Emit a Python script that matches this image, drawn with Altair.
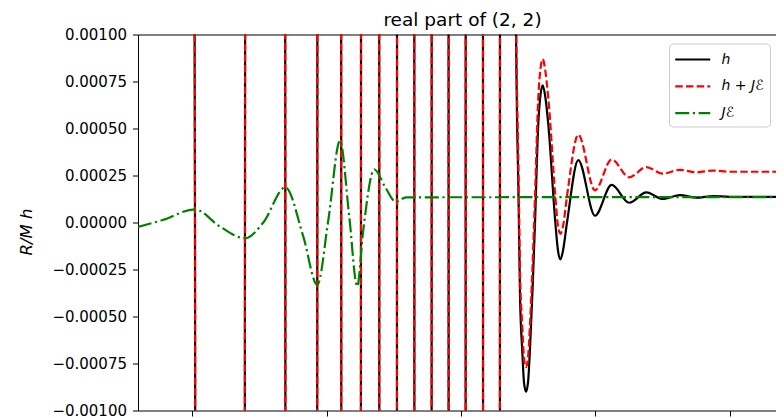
import altair as alt
import pandas as pd

# ---- data (x in units of t/M, y = R/M h) ----
labels = ["h", "h + Jℰ", "Jℰ"]
colors = ["#000000", "#ff0000", "#008000"]
dashes = [[1, 0], [7.5, 3.2], [14, 3.6, 2.2, 3.6]]

t_h = [-240.3, -197.9, -179.3, -160.7, -145.7, -130.7, -118.8, -106.9, -98.0, -89.1,
       -81.8, -74.4, -67.6, -60.8, -54.2, -47.6, -41.2, -34.7, -28.3, -21.8,
       -15.5, -9.2, -2.9, 3.5, 10.0, 16.4, 22.7, 29.0, 35.0,
       40.9, 42.9, 43.9, 45.6, 46.9, 48.4, 49.9, 51.3, 53.3, 55.1,
       57.5, 59.2, 60.8, 62.5, 65.0, 70.2, 72.2, 74.0, 75.9, 78.9,
       87.3, 99.7, 112.1, 125.2, 137.9, 150.1, 162.9, 175.4, 187.5, 200.1, 238.8]
v_h = [0.15, 0.0, -0.16, 0.0, 0.17, 0.0, -0.18, 0.0, 0.19, 0.0,
       -0.20, 0.0, 0.22, 0.0, -0.24, 0.0, 0.26, 0.0, -0.28, 0.0,
       0.30, 0.0, -0.33, 0.0, 0.36, 0.0, -0.38, 0.0, 0.40,
       0.0011, 0.0001, -0.00038, -0.00068, -0.00085, -0.0009, -0.00085, -0.00068, -0.00035, 0.0,
       0.00052, 0.00068, 0.00073, 0.00068, 0.00052, 0.0, -0.00015, -0.000196, -0.00015, 0.0,
       0.000332, 0.000036, 0.0002, 0.000105, 0.00016, 0.000125, 0.000146, 0.000132, 0.000141,
       0.000136, 0.000136]

v_hJ = [0.15, 0.0, -0.16, 0.0, 0.17, 0.0, -0.18, 0.0, 0.19, 0.0,
        -0.20, 0.0, 0.22, 0.0, -0.24, 0.0, 0.26, 0.0, -0.28, 0.0,
        0.30, 0.0, -0.33, 0.0, 0.36, 0.0, -0.38, 0.0, 0.40,
        0.00124, 0.00024, -0.00025, -0.00055, -0.00072, -0.00077, -0.00072, -0.00055, -0.00022, 0.00014,
        0.00066, 0.00082, 0.00087, 0.00082, 0.00066, 0.00014, -0.00002, -0.00006, -0.00002, 0.00014,
        0.000467, 0.000171, 0.000335, 0.00024, 0.000295, 0.00026, 0.00028, 0.000267, 0.000276,
        0.00027, 0.00027]

t_J = [-240.3, -222.0, -197.9, -179.3, -160.7, -147.1, -130.7, -117.3, -106.9, -98.7,
       -90.0, -83.1, -77.2, -72.7, -64.5, -56.5, -48.4, -40.9, 238.8]
v_J = [-0.000024, 0.000013, 0.00007, -0.000022, -0.000084, 0.0, 0.000187, -0.000075, -0.000332, 0.000013,
       0.000435, 0.00003, -0.00034, -0.00004, 0.000283, 0.00019, 0.00011, 0.000134, 0.000135]

y_ticks = [-0.001, -0.00075, -0.0005, -0.00025, 0.0, 0.00025, 0.0005, 0.00075, 0.001]
x_ticks = [-200, -100, 0, 100, 200]
title_text = "real part of (2, 2)"

rows = []
for i, (t, v) in enumerate(zip(t_h, v_h)):
    rows.append({"t": t, "v": v, "series": labels[0], "i": i})
for i, (t, v) in enumerate(zip(t_h, v_hJ)):
    rows.append({"t": t, "v": v, "series": labels[1], "i": i})
for i, (t, v) in enumerate(zip(t_J, v_J)):
    rows.append({"t": t, "v": v, "series": labels[2], "i": i})
df = pd.DataFrame(rows)

FONT = "DejaVu Sans"

leg = alt.Legend(
    title=None, orient="none", legendX=531, legendY=9, direction="vertical",
    symbolType="M-2,0H2", symbolSize=306, symbolStrokeWidth=2.2, symbolOffset=7.75,
    labelFont=FONT, labelFontSize=14, labelFontStyle="italic", labelColor="black",
    labelOffset=18.75, padding=6, rowPadding=9.8, fillColor="white",
    strokeColor="#cccccc", cornerRadius=4, labelLimit=300,
)

x_scale = alt.Scale(domain=[-240.3, 234.4], nice=False, zero=False)
y_scale = alt.Scale(domain=[-0.001, 0.001], nice=False, zero=False)

axis_bottom = alt.Axis(values=x_ticks, labels=False, title=None, grid=False, domain=False,
                       tickSize=5.5, tickColor="black", tickWidth=1)
axis_top = alt.Axis(orient="top", title=title_text, labels=False, ticks=False, domain=False,
                    grid=False, titleFont=FONT, titleFontSize=18.5, titleFontWeight="normal",
                    titleColor="black", titlePadding=9.5, titleBaseline="alphabetic",
                    titleX=324)

y_axis = alt.Axis(values=y_ticks, format=".5f", title="R/M h", grid=False, domain=False,
                  tickSize=5.5, tickColor="black", tickWidth=1,
                  labelFont=FONT, labelFontSize=15, labelColor="black", labelPadding=6,
                  labelFlush=False, labelOverlap=False,
                  titleFont=FONT, titleFontSize=16.5, titleFontStyle="italic",
                  titleFontWeight="normal", titleColor="black",
                  titleX=-104, titleY=197, titleBaseline="bottom")


def make_layer(series, xaxis):
    return alt.Chart(df).transform_filter(alt.datum.series == series).mark_line(
        interpolate="monotone", strokeWidth=2.2, clip=True
    ).encode(
        x=alt.X("t:Q", scale=x_scale, axis=xaxis),
        y=alt.Y("v:Q", scale=y_scale, axis=y_axis),
        color=alt.Color("series:N", scale=alt.Scale(domain=labels, range=colors), legend=leg),
        strokeDash=alt.StrokeDash("series:N", scale=alt.Scale(domain=labels, range=dashes), legend=leg),
        order=alt.Order("i:Q"),
    )


chart = alt.layer(
    make_layer(labels[0], axis_bottom),
    make_layer(labels[1], axis_top),
    make_layer(labels[2], None),
).resolve_axis(x="independent").properties(
    width=638, height=376,
    autosize=alt.AutoSizeParams(type="none"),
    padding={"left": 130, "top": 26.5, "right": 0, "bottom": 12},
    background="white",
).configure_view(stroke="black", strokeWidth=1)

chart.save("out.html", embed_options={"renderer": "svg", "actions": False})
